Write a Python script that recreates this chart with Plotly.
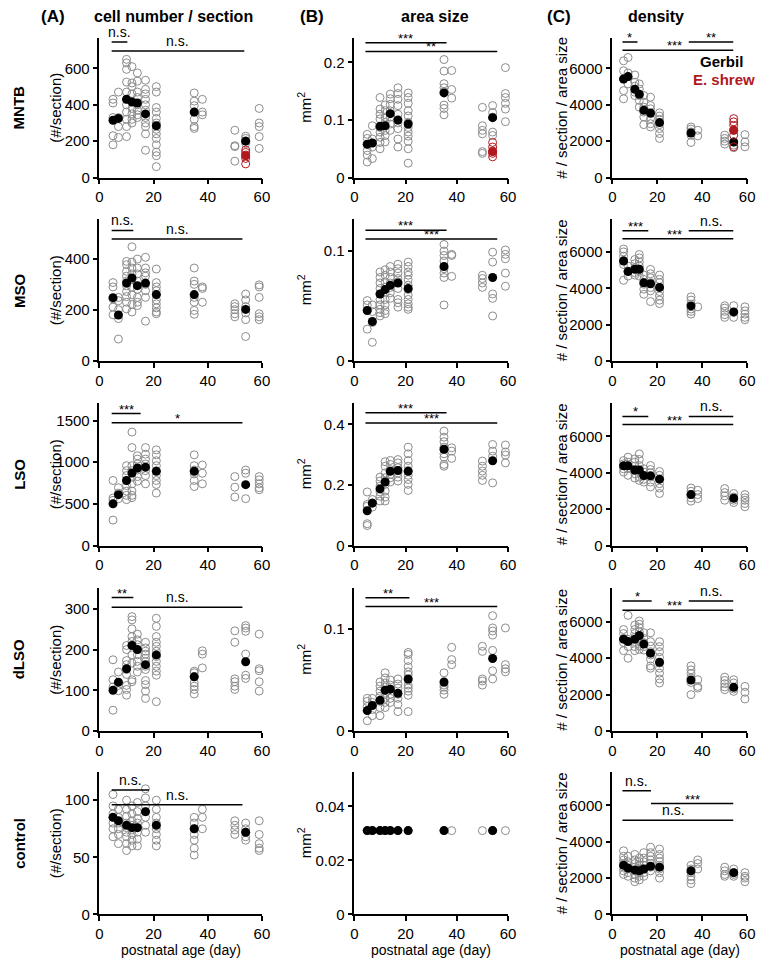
import plotly.graph_objects as go

# ---------------- data ----------------
AGES = [5, 7, 10, 12, 14, 17, 21, 35, 38, 50, 54, 59]
MEAN_AGES = [5, 7, 10, 12, 14, 17, 21, 35, 54]
SHREW_AGE = 54

# MNTB
mntb_cells = [[430, 410, 330, 230, 180], [470, 330, 280, 220],
              [650, 630, 595, 525, 470, 430, 400, 360, 320, 280, 225],
              [610, 520, 500, 460, 420, 380, 350, 320, 300],
              [575, 530, 470, 440, 400, 370, 345, 330],
              [535, 485, 460, 430, 400, 370, 330, 300, 280, 240, 150],
              [500, 470, 385, 360, 325, 300, 265, 240, 215, 180, 140, 120, 60],
              [465, 420, 395, 360, 320, 280, 270], [430, 360, 345],
              [260, 175, 170, 90], [227, 215, 202, 187], [380, 300, 280, 225, 160]]
mntb_cells_mean = [315, 325, 430, 415, 410, 350, 285, 360, 200]
mntb_cells_shrew = [151, 138, 124, 105, 75]
mntb_cells_shrew_mean = [120]

mntb_area = [[0.075, 0.068, 0.057, 0.047, 0.039, 0.027], [0.090, 0.067, 0.053, 0.033],
             [0.139, 0.119, 0.110, 0.102, 0.087, 0.079, 0.070, 0.061, 0.050],
             [0.126, 0.116, 0.105, 0.096, 0.082, 0.073, 0.062],
             [0.145, 0.137, 0.127, 0.116, 0.105, 0.093, 0.082],
             [0.156, 0.146, 0.136, 0.125, 0.110, 0.095, 0.085, 0.067, 0.053],
             [0.147, 0.139, 0.129, 0.116, 0.107, 0.096, 0.087, 0.079, 0.072, 0.063, 0.050, 0.025],
             [0.205, 0.185, 0.163, 0.156, 0.149, 0.126, 0.120, 0.109], [0.186, 0.153, 0.138],
             [0.122, 0.090, 0.082, 0.076, 0.045, 0.042], [0.125, 0.113, 0.105, 0.079, 0.073],
             [0.191, 0.146, 0.139, 0.129, 0.119, 0.097]]
mntb_area_mean = [0.058, 0.060, 0.089, 0.090, 0.111, 0.100, 0.093, 0.147, 0.104]
mntb_area_shrew = [0.061, 0.053, 0.046, 0.042, 0.036]
mntb_area_shrew_mean = [0.045]

mntb_dens = [[6420, 5870, 5420, 4780, 4330], [6600, 5750, 5150], [5640, 5240, 5020, 4690, 4510],
             [5150, 4870, 4510, 4240, 3870], [4510, 4150, 3870, 3600, 3330, 2910],
             [4420, 3960, 3780, 3510, 3240, 2960, 2780], [3560, 3380, 3200, 2910, 2690, 2420, 2150],
             [2780, 2660, 2510, 2330, 1930], [2600, 2290], [2330, 2150, 2000, 1840],
             [1960, 1780, 1640], [2360, 1960, 1690]]
mntb_dens_mean = [5420, 5550, 4850, 4580, 3700, 3550, 3020, 2450, 1950]
mntb_dens_shrew = [3240, 3060, 2870, 2600, 2330, 1690]
mntb_dens_shrew_mean = [2600]

# MSO
mso_cells = [[307, 290, 243, 211, 181], [249, 236, 201, 166, 86],
             [390, 377, 351, 332, 313, 294, 272, 252, 230, 204],
             [447, 387, 364, 341, 319, 288, 259, 221, 192],
             [399, 364, 341, 313, 281, 249, 230, 217],
             [406, 364, 345, 332, 300, 275, 249, 156],
             [360, 307, 290, 275, 259, 239, 224, 208, 192, 185],
             [364, 313, 300, 249, 230, 198, 183], [290, 284, 230],
             [224, 213, 201, 185, 173], [262, 239, 213, 188, 162, 96],
             [298, 290, 249, 185, 173, 162]]
mso_cells_mean = [248, 180, 305, 325, 295, 305, 260, 260, 202]

mso_area = [[0.055, 0.051, 0.046, 0.029], [0.051, 0.045, 0.035, 0.017],
            [0.081, 0.076, 0.071, 0.066, 0.061, 0.056, 0.051, 0.047, 0.044, 0.041],
            [0.083, 0.078, 0.072, 0.067, 0.062, 0.056, 0.051, 0.046, 0.043],
            [0.086, 0.081, 0.076, 0.071, 0.067, 0.062, 0.057],
            [0.088, 0.084, 0.080, 0.075, 0.072, 0.066, 0.056, 0.053, 0.049],
            [0.090, 0.086, 0.081, 0.078, 0.074, 0.069, 0.065, 0.060, 0.056, 0.052, 0.049, 0.047],
            [0.106, 0.100, 0.096, 0.091, 0.084, 0.080, 0.076, 0.051], [0.097, 0.096, 0.077],
            [0.078, 0.075, 0.071, 0.067], [0.099, 0.090, 0.061, 0.057, 0.041],
            [0.101, 0.097, 0.093, 0.080, 0.068]]
mso_area_mean = [0.046, 0.036, 0.061, 0.065, 0.069, 0.071, 0.066, 0.086, 0.076]

mso_dens = [[6160, 6000, 5760, 5530, 5310, 4440], [5220, 4950, 4670], [5580, 5350, 5130, 4860, 4730],
            [5860, 5670, 5450, 5220, 4950, 4670], [4730, 4490, 4220, 3950, 3670],
            [5040, 4800, 4580, 4310, 4040, 3860, 3270],
            [4730, 4490, 4310, 4040, 3820, 3580, 3350, 3160],
            [3530, 3350, 3130, 2860, 2730, 2580], [2980], [3040, 2910, 2730, 2550, 2400],
            [3040, 2670, 2400], [2980, 2760, 2580, 2400, 2270]]
mso_dens_mean = [5500, 4920, 5050, 5050, 4300, 4250, 4050, 3030, 2700]

# LSO
lso_cells = [[780, 570, 542, 305], [693, 629, 562], [958, 898, 839, 780, 720, 653, 602, 550],
             [1361, 1175, 958, 898, 819, 740, 653, 602, 574], [1077, 1037, 978, 906, 827, 772],
             [1175, 1096, 1037, 978, 898, 839, 740], [1148, 1088, 1017, 958, 898, 839, 780, 732, 629],
             [1088, 958, 906, 859, 780, 708], [966, 867, 740], [827, 700, 582], [906, 867, 562],
             [827, 788, 740, 693, 669]]
lso_cells_mean = [500, 610, 780, 870, 930, 940, 890, 890, 730]

lso_area = [[0.177, 0.136, 0.130, 0.072, 0.066], [0.152, 0.141, 0.127],
            [0.226, 0.213, 0.196, 0.177, 0.163, 0.147],
            [0.277, 0.262, 0.240, 0.224, 0.202, 0.180, 0.160, 0.147],
            [0.281, 0.268, 0.251, 0.235, 0.224, 0.210], [0.284, 0.273, 0.257, 0.240, 0.226, 0.213],
            [0.325, 0.303, 0.281, 0.262, 0.248, 0.232, 0.218, 0.202, 0.182],
            [0.378, 0.358, 0.343, 0.325, 0.303, 0.292, 0.268, 0.262], [0.323, 0.312, 0.288],
            [0.279, 0.262, 0.246, 0.232, 0.215], [0.334, 0.312, 0.295, 0.207],
            [0.332, 0.309, 0.299, 0.273]]
lso_area_mean = [0.115, 0.140, 0.187, 0.210, 0.245, 0.248, 0.245, 0.318, 0.280]

lso_dens = [[4670, 4490, 4220, 4040], [4860, 4580, 4220, 3860], [4760, 4580, 4360, 4130, 3950, 3710],
            [5040, 4730, 4400, 4070, 3760, 3580], [4220, 4040, 3820, 3640, 3490],
            [4400, 4180, 4000, 3760, 3490, 3220], [4070, 3860, 3640, 3400, 3160, 2860],
            [3160, 2980, 2800, 2620, 2440], [3040, 2800, 2580], [3130, 2910, 2730, 2490],
            [2860, 2670, 2490, 2360], [2800, 2620, 2490, 2310, 2130]]
lso_dens_mean = [4380, 4380, 4150, 4150, 3850, 3830, 3650, 2800, 2600]

# dLSO
dlso_cells = [[175, 126, 108, 51], [145, 112, 99], [210, 200, 173, 163, 151, 139, 112, 102, 88],
              [281, 273, 251, 232, 220, 210, 187, 167, 126, 121],
              [238, 224, 212, 200, 187, 171, 159, 145],
              [218, 204, 196, 189, 179, 170, 159, 151, 124, 114, 98, 80],
              [277, 257, 232, 218, 208, 196, 183, 171, 159, 147, 137, 72],
              [147, 143, 134, 118, 110, 102, 91], [197, 189, 155], [246, 218, 128, 121, 110, 102],
              [259, 253, 245, 189, 137, 129], [238, 153, 148, 121, 98]]
dlso_cells_mean = [100, 120, 153, 210, 200, 163, 187, 133, 170]

dlso_area = [[0.032, 0.029, 0.024, 0.010], [0.032, 0.028, 0.021, 0.015],
             [0.048, 0.044, 0.039, 0.034, 0.029, 0.023, 0.015],
             [0.057, 0.052, 0.047, 0.043, 0.037, 0.032, 0.028, 0.023],
             [0.050, 0.045, 0.041, 0.036, 0.032, 0.028],
             [0.051, 0.046, 0.042, 0.036, 0.032, 0.026, 0.019],
             [0.077, 0.075, 0.069, 0.063, 0.058, 0.055, 0.050, 0.045, 0.042, 0.039, 0.035, 0.019],
             [0.057, 0.045, 0.043, 0.040, 0.036], [0.082, 0.070, 0.065],
             [0.083, 0.078, 0.051, 0.049, 0.045], [0.113, 0.101, 0.098, 0.094, 0.079, 0.059, 0.051],
             [0.101, 0.065, 0.061, 0.058]]
dlso_area_mean = [0.020, 0.025, 0.030, 0.040, 0.041, 0.037, 0.051, 0.048, 0.071]

dlso_dens = [[5580, 5360, 5090, 4860, 4420], [6360, 5040, 4640, 4000],
             [5820, 5580, 5360, 5150, 4910, 4640, 4420],
             [6050, 5870, 5690, 5450, 5220, 4960, 4670, 4490], [5400, 5090, 4860, 4640, 4450],
             [5400, 4910, 4670, 4360, 4180, 3950, 3580, 3450],
             [4910, 4640, 4360, 4050, 3730, 3450, 3180, 2860, 2640],
             [3580, 3360, 3150, 2910, 2670, 2000], [2820, 2450, 2360], [2960, 2780, 2600, 2420, 2270],
             [2820, 2640, 2310, 2180], [2450, 2130, 1760]]
dlso_dens_mean = [5050, 4920, 5050, 5250, 4780, 4280, 3780, 2800, 2400]

# control
ctrl_cells = [[105, 95, 88, 85, 80, 75, 68], [92, 85, 80, 75, 70, 62],
              [100, 92, 86, 80, 76, 72, 68, 62, 56], [95, 88, 82, 78, 74, 70, 65, 60],
              [98, 90, 84, 80, 76, 72, 66, 60], [110, 102, 95, 90, 85, 78, 72],
              [100, 92, 85, 80, 75, 70, 65, 60], [85, 80, 75, 70, 65, 58, 52], [92, 85, 75],
              [82, 78, 74, 70], [80, 75, 72, 68, 65], [82, 70, 62, 58, 56]]
ctrl_cells_mean = [85, 82, 78, 76, 76, 90, 78, 75, 72]

ctrl_area = [[0.031]] * 12
ctrl_area_mean = [0.031] * 9

ctrl_dens = [[3500, 3200, 3000, 2800, 2600, 2400, 2200], [3200, 2900, 2700, 2500, 2300, 2100],
             [3300, 3000, 2800, 2600, 2400, 2200, 2000, 1800], [3100, 2900, 2700, 2500, 2300, 2100, 1900],
             [3400, 3100, 2900, 2700, 2500, 2300, 2100], [3700, 3400, 3200, 3000, 2800, 2600, 2400],
             [3600, 3300, 3100, 2900, 2700, 2500, 2300, 2000], [2700, 2500, 2300, 2100, 1900, 1700],
             [3000, 2800, 2500], [2600, 2400, 2200, 2100], [2500, 2300, 2200, 2100],
             [2300, 2100, 2000, 1800]]
ctrl_dens_mean = [2700, 2550, 2450, 2400, 2500, 2650, 2600, 2400, 2300]

# significance: (x start, x end, y, label, label x)
sig_mntb_cells = [(4.5, 10.3, 745, 'n.s.', 7.4), (4.5, 53.5, 696, 'n.s.', 29)]
sig_mntb_area = [(4.3, 36, 0.234, '***', 20), (4.3, 55.8, 0.219, '**', 30)]
sig_mntb_dens = [(4.5, 11.2, 7450, '*', 7.8), (4.5, 53.8, 7000, '***', 27.5), (34, 53.8, 7450, '**', 44)]
sig_mso_cells = [(4.5, 12.5, 511, 'n.s.', 8.5), (4.5, 52.8, 477, 'n.s.', 29)]
sig_mso_area = [(4.3, 36, 0.119, '***', 20), (4.3, 55.8, 0.111, '***', 30)]
sig_mso_dens = [(4.5, 16, 7160, '***', 10.2), (4.5, 53.8, 6730, '***', 27.5), (34, 53.8, 7160, 'n.s.', 44)]
sig_lso_cells = [(4.5, 15.2, 1583, '***', 9.8), (4.5, 52.8, 1472, '*', 29)]
sig_lso_area = [(4.3, 36, 0.439, '***', 20), (4.3, 55.8, 0.405, '***', 30)]
sig_lso_dens = [(4.5, 16, 7100, '*', 10.2), (4.5, 53.8, 6650, '***', 27.5), (34, 53.8, 7100, 'n.s.', 44)]
sig_dlso_cells = [(4.5, 12.5, 328, '**', 8.5), (4.5, 52.8, 304, 'n.s.', 29)]
sig_dlso_area = [(4.3, 21.5, 0.1305, '**', 13), (4.3, 55.8, 0.122, '***', 30)]
sig_dlso_dens = [(4.5, 17.5, 7150, '*', 11), (4.5, 53.8, 6640, '***', 27.5), (34, 53.8, 7150, 'n.s.', 44)]
sig_ctrl_cells = [(4.5, 18.3, 109, 'n.s.', 11.4), (4.5, 52.8, 96, 'n.s.', 29)]
sig_ctrl_area = []
sig_ctrl_dens = [(4.5, 17.2, 6800, 'n.s.', 10.8), (17.2, 53.8, 6100, '***', 35.5), (4.5, 53.8, 5180, 'n.s.', 27)]

# ---------------- layout ----------------
W, H = 767, 979
COLX = [(97, 262), (356, 512), (618, 755)]
ROWY = [(38, 179), (221, 364), (406, 550), (593, 737), (778, 922)]

panels = [
    # row, col, open, means, yrange, ytickvals, sig
    (0, 0, mntb_cells, mntb_cells_mean, 769, [0, 200, 400, 600], sig_mntb_cells),
    (0, 1, mntb_area, mntb_area_mean, 0.243, [0, 0.1, 0.2], sig_mntb_area),
    (0, 2, mntb_dens, mntb_dens_mean, 7690, [0, 2000, 4000, 6000], sig_mntb_dens),
    (1, 0, mso_cells, mso_cells_mean, 555, [0, 200, 400], sig_mso_cells),
    (1, 1, mso_area, mso_area_mean, 0.129, [0, 0.1], sig_mso_area),
    (1, 2, mso_dens, mso_dens_mean, 7800, [0, 2000, 4000, 6000], sig_mso_dens),
    (2, 0, lso_cells, lso_cells_mean, 1714, [0, 500, 1000, 1500], sig_lso_cells),
    (2, 1, lso_area, lso_area_mean, 0.472, [0, 0.2, 0.4], sig_lso_area),
    (2, 2, lso_dens, lso_dens_mean, 7855, [0, 2000, 4000, 6000], sig_lso_dens),
    (3, 0, dlso_cells, dlso_cells_mean, 351, [0, 100, 200, 300], sig_dlso_cells),
    (3, 1, dlso_area, dlso_area_mean, 0.14, [0, 0.1], sig_dlso_area),
    (3, 2, dlso_dens, dlso_dens_mean, 7855, [0, 2000, 4000, 6000], sig_dlso_dens),
    (4, 0, ctrl_cells, ctrl_cells_mean, 125, [0, 50, 100], sig_ctrl_cells),
    (4, 1, ctrl_area, ctrl_area_mean, 0.0528, [0, 0.02, 0.04], sig_ctrl_area),
    (4, 2, ctrl_dens, ctrl_dens_mean, 7855, [0, 2000, 4000, 6000], sig_ctrl_dens),
]
shrew = {0: (mntb_cells_shrew, mntb_cells_shrew_mean),
         1: (mntb_area_shrew, mntb_area_shrew_mean),
         2: (mntb_dens_shrew, mntb_dens_shrew_mean)}

FONT = "Liberation Sans, Arial, sans-serif"
GRAY = "#8c8c8c"
RED = "#b0191e"

fig = go.Figure()
layout = {}
annotations = []
shapes = []

for k, (r, c, opn, means, ytop, ytv, sig) in enumerate(panels):
    n = k + 1
    xa = "x" if n == 1 else f"x{n}"
    ya = "y" if n == 1 else f"y{n}"
    xs, ys = [], []
    for age, vals in zip(AGES, opn):
        xs += [age] * len(vals)
        ys += vals
    fig.add_trace(go.Scatter(x=xs, y=ys, mode="markers", xaxis=xa, yaxis=ya,
                             cliponaxis=False, showlegend=False, hoverinfo="skip",
                             marker=dict(symbol="circle-open", size=8, color=GRAY,
                                         line=dict(width=1, color=GRAY))))
    fig.add_trace(go.Scatter(x=MEAN_AGES, y=means, mode="markers", xaxis=xa, yaxis=ya,
                             cliponaxis=False, showlegend=False, hoverinfo="skip",
                             marker=dict(symbol="circle", size=9, color="black")))
    if k in shrew:
        sv, sm = shrew[k]
        fig.add_trace(go.Scatter(x=[SHREW_AGE] * len(sv), y=sv, mode="markers", xaxis=xa, yaxis=ya,
                                 cliponaxis=False, showlegend=False, hoverinfo="skip",
                                 marker=dict(symbol="circle-open", size=8, color=RED,
                                             line=dict(width=1, color=RED))))
        fig.add_trace(go.Scatter(x=[SHREW_AGE] * len(sm), y=sm, mode="markers", xaxis=xa, yaxis=ya,
                                 cliponaxis=False, showlegend=False, hoverinfo="skip",
                                 marker=dict(symbol="circle", size=9, color=RED)))
    x0, x1 = COLX[c]
    y0, y1 = ROWY[r]
    axstyle = dict(showline=True, linecolor="black", linewidth=1.5, ticks="outside",
                   ticklen=5, tickwidth=1.5, tickcolor="black", showgrid=False,
                   zeroline=False, tickfont=dict(family=FONT, size=15, color="black"))
    layout["xaxis" if n == 1 else f"xaxis{n}"] = dict(
        domain=[x0 / W, x1 / W], range=[0, 60], tickvals=[0, 20, 40, 60],
        anchor=ya, **axstyle)
    layout["yaxis" if n == 1 else f"yaxis{n}"] = dict(
        domain=[1 - y1 / H, 1 - y0 / H], range=[0, ytop], tickvals=ytv,
        anchor=xa, **axstyle)
    for (sx0, sx1, sy, lab, lx) in sig:
        shapes.append(dict(type="line", xref=xa, yref=ya, x0=sx0, x1=sx1, y0=sy, y1=sy,
                           line=dict(color="black", width=1.5)))
        star = "*" in lab
        annotations.append(dict(xref=xa, yref=ya, x=lx, y=sy, text=lab, showarrow=False,
                                xanchor="center", yanchor="bottom",
                                yshift=-5 if star else 0,
                                font=dict(family=FONT, size=13 if star else 14, color="black")))

def pa(text, x, y, size=15, bold=False, angle=0, color="black"):
    t = f"<b>{text}</b>" if bold else text
    annotations.append(dict(xref="paper", yref="paper", x=x / W, y=1 - y / H, text=t,
                            showarrow=False, xanchor="center", yanchor="middle",
                            textangle=angle, font=dict(family=FONT, size=size, color=color)))

# column headers
pa("(A)", 50, 17, 17, True)
pa("cell number / section", 172, 17, 16, True)
pa("(B)", 313, 17, 17, True)
pa("area size", 438, 17, 16, True)
pa("(C)", 564, 17, 17, True)
pa("density", 662, 17, 16, True)

# row labels and y titles
row_names = ["MNTB", "MSO", "LSO", "dLSO", "control"]
for i, name in enumerate(row_names):
    yc = (ROWY[i][0] + ROWY[i][1]) / 2
    pa(name, 15, yc, 15, True, -90)
    pa("(#/section)", 52, yc, 15, False, -90)
    pa("mm<sup>2</sup>", 305, yc, 15, False, -90)
    pa("# / section / area size", 566, yc, 15, False, -90)

# x titles
for c in range(3):
    pa("postnatal age (day)", (COLX[c][0] + COLX[c][1]) / 2, 958, 14)

# legend text
pa("Gerbil", 729, 62, 15, True)
pa("E. shrew", 731, 80, 15, True, 0, RED)

fig.update_layout(width=W, height=H, margin=dict(l=0, r=0, t=0, b=0),
                  paper_bgcolor="white", plot_bgcolor="white",
                  annotations=annotations, shapes=shapes, **layout)
fig.write_html("out.html")
